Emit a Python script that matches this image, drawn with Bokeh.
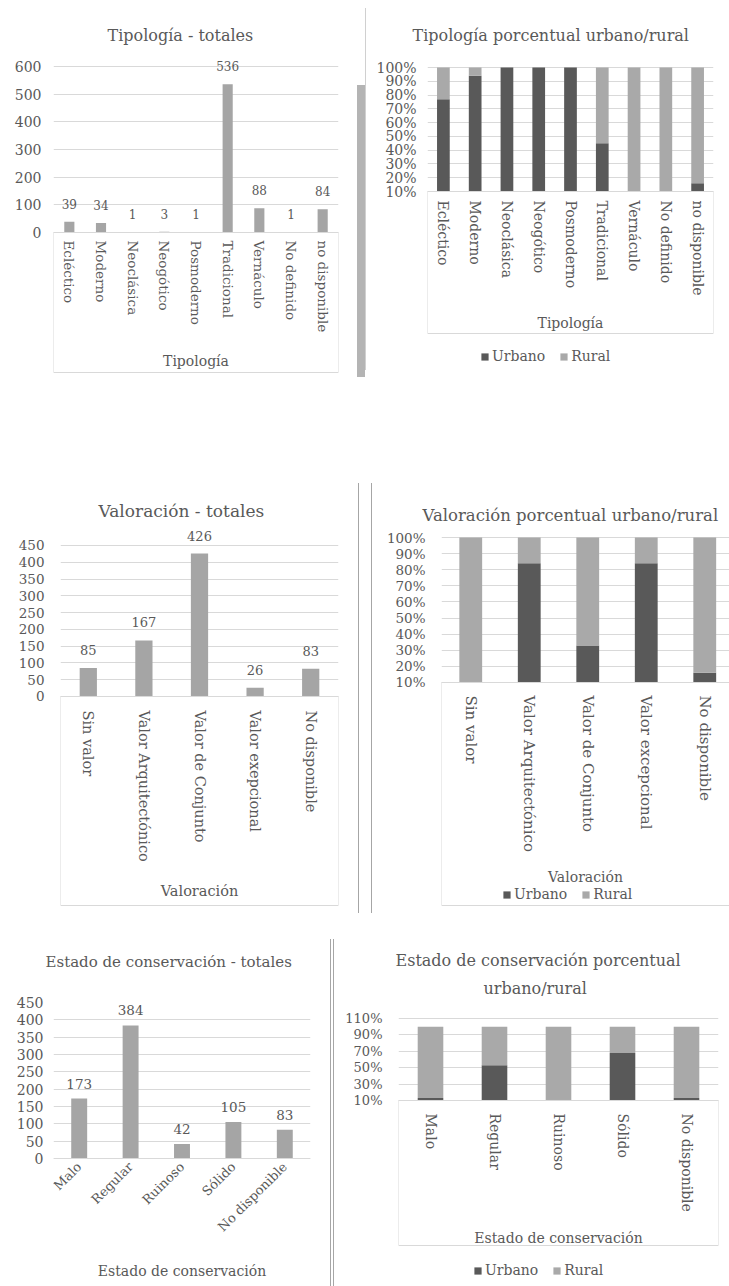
from bokeh.plotting import figure
from bokeh.layouts import column, row
from bokeh.models import (Range1d, FixedTicker, NumeralTickFormatter, Title,
                          Legend, LegendItem, ColumnDataSource, Spacer,
                          BoxAnnotation)
from bokeh.core.properties import value
from bokeh.embed import file_html
from bokeh.resources import INLINE

# ---------------- data ----------------
tipo_cats = ["Ecléctico", "Moderno", "Neoclásica", "Neogótico", "Posmoderno",
             "Tradicional", "Vernáculo", "No definido", "no disponible"]
tipo_totales = [39, 34, 1, 3, 1, 536, 88, 1, 84]
tipo_urbano = [0.77, 0.94, 1.0, 1.0, 1.0, 0.45, 0.0, 0.0, 0.16]

val_cats = ["Sin valor", "Valor Arquitectónico", "Valor de Conjunto",
            "Valor exepcional", "No disponible"]
val_totales = [85, 167, 426, 26, 83]
val_cats_pct = ["Sin valor", "Valor Arquitectónico", "Valor de Conjunto",
                "Valor excepcional", "No disponible"]
val_urbano = [0.0, 0.84, 0.33, 0.84, 0.16]

est_cats = ["Malo", "Regular", "Ruinoso", "Sólido", "No disponible"]
est_totales = [173, 384, 42, 105, 83]
est_urbano = [0.13, 0.53, 0.0, 0.68, 0.13]

ticks_tot1 = [0, 100, 200, 300, 400, 500, 600]
ticks_tot2 = [0, 50, 100, 150, 200, 250, 300, 350, 400, 450]
ticks_pct1 = [0.1, 0.2, 0.3, 0.4, 0.5, 0.6, 0.7, 0.8, 0.9, 1.0]
ticks_pct2 = [0.1, 0.3, 0.5, 0.7, 0.9, 1.1]

# ---------------- style ----------------
FONT = "DejaVu Serif"
TXT = "#595959"
GRID = "#d9d9d9"
BAR = "#a5a5a5"
URB = "#595959"
RUR = "#a9a9a9"
SEP = "#a6a6a6"


def make_fig(xr, yr, base, left, fw, right, top, fh, bottom, titles):
    p = figure(frame_width=fw, frame_height=fh, x_range=xr, y_range=yr,
               output_backend="svg", toolbar_location=None, title=None,
               min_border_left=left, min_border_right=right,
               min_border_top=top, min_border_bottom=bottom)
    p.outline_line_color = None
    p.xgrid.grid_line_color = None
    p.ygrid.grid_line_color = GRID
    p.yaxis.axis_line_color = None
    p.yaxis.major_tick_line_color = None
    p.yaxis.minor_tick_line_color = None
    p.yaxis.major_tick_out = 0
    p.yaxis.major_label_text_font = FONT
    p.yaxis.major_label_text_color = TXT
    p.xaxis.fixed_location = base
    p.xaxis.axis_line_color = GRID
    p.xaxis.major_tick_line_color = None
    p.xaxis.minor_tick_line_color = None
    p.xaxis.major_tick_out = 0
    p.xaxis.major_label_text_font = FONT
    p.xaxis.major_label_text_color = TXT
    p.xaxis.axis_label_text_font = FONT
    p.xaxis.axis_label_text_color = TXT
    p.xaxis.axis_label_text_font_style = "normal"
    # titles: (text, size, offset, standoff), closest to the frame first
    for text, size, off, so in titles:
        t = Title(text=text, text_font=FONT, text_color=TXT,
                  text_font_style="normal", text_font_size=size,
                  align="left", offset=off, standoff=so)
        p.add_layout(t, "above")
    return p


def below_box(p, base, depth, right=None):
    kw = dict(top=base, bottom=depth, fill_alpha=0, line_color=GRID,
              line_width=1, line_alpha=1)
    if right is not None:
        kw["right"] = right
    p.add_layout(BoxAnnotation(**kw))


def vline(w, h, top, total, color):
    parts = []
    if top > 0:
        parts.append(Spacer(width=w, height=top, margin=0))
    parts.append(Spacer(width=w, height=h, margin=0,
                        styles={"background-color": color}))
    rest = total - top - h
    if rest > 0:
        parts.append(Spacer(width=w, height=rest, margin=0))
    return column(*parts, spacing=0, margin=0)


def gap(w, h):
    return Spacer(width=w, height=h, margin=0)


def labels(p, xs, ys, size, off):
    src = ColumnDataSource(dict(x=xs, y=ys, t=[str(v) for v in ys]))
    p.text(x="x", y="y", text="t", source=src, text_font=value(FONT),
           text_font_size=value(size), text_color=TXT, text_align="center",
           text_baseline="middle", y_offset=off)


def pct_bars(p, xs, urb, width, base, loc, size):
    top_u = [max(u, base) for u in urb]
    src = ColumnDataSource(dict(x=xs, b=[base] * len(urb), tu=top_u,
                                tr=[1.0] * len(urb)))
    r_u = p.vbar(x="x", bottom="b", top="tu", width=width, fill_color=URB,
                 line_color=None, source=src)
    r_r = p.vbar(x="x", bottom="tu", top="tr", width=width, fill_color=RUR,
                 line_color=None, source=src)
    lg = Legend(items=[LegendItem(label="Urbano", renderers=[r_u]),
                       LegendItem(label="Rural", renderers=[r_r])],
                orientation="horizontal", location=loc,
                label_text_font=FONT, label_text_color=TXT,
                label_text_font_size=size)
    lg.glyph_width = 9
    lg.glyph_height = 9
    lg.label_standoff = 3
    lg.spacing = 14
    lg.padding = 0
    lg.margin = 0
    lg.border_line_color = None
    lg.background_fill_alpha = 0
    p.add_layout(lg)


# ---------- Chart 1: Tipología - totales ----------
p1 = make_fig(tipo_cats, Range1d(-520.48, 657.83), 0, 53, 285, 19, 50, 326, 64,
              [("Tipología - totales", "16px", 54, 12)])
p1.vbar(x=tipo_cats, top=tipo_totales, width=0.32, fill_color=BAR, line_color=None)
labels(p1, tipo_cats, tipo_totales, "12px", -18)
p1.yaxis.ticker = FixedTicker(ticks=ticks_tot1)
p1.yaxis.major_label_text_font_size = "14px"
p1.yaxis.major_label_standoff = 12
p1.xaxis.major_label_orientation = "vertical"
p1.xaxis.major_label_text_font_size = "13.5px"
p1.xaxis.major_label_standoff = 8
p1.xaxis.axis_label = "Tipología"
p1.xaxis.axis_label_text_font_size = "14px"
p1.xaxis.axis_label_standoff = 18
below_box(p1, 0, -506.0)

# ---------- Chart 2: Tipología porcentual ----------
p2 = make_fig(tipo_cats, Range1d(-1.2427, 1.1234), 0.1, 61, 286, 16, 50, 326, 64,
              [("Tipología porcentual urbano/rural", "16px", -15, 12)])
pct_bars(p2, tipo_cats, tipo_urbano, 0.4, 0.1, (53, 12), "14px")
p2.yaxis.ticker = FixedTicker(ticks=ticks_pct1)
p2.yaxis.formatter = NumeralTickFormatter(format="0%")
p2.yaxis.major_label_text_font_size = "14px"
p2.yaxis.major_label_standoff = 11
p2.xaxis.major_label_orientation = "vertical"
p2.xaxis.major_label_text_font_size = "14px"
p2.xaxis.major_label_standoff = 9
p2.xaxis.axis_label = "Tipología"
p2.xaxis.axis_label_text_font_size = "14px"
p2.xaxis.axis_label_standoff = 16
below_box(p2, 0.1, -0.9306)

# ---------- Chart 3: Valoración - totales ----------
p3 = make_fig(val_cats, Range1d(-637.75, 509.6), 0, 60, 278, 20, 85, 385, 5,
              [("Valoración - totales", "17px", 38, 10)])
p3.vbar(x=val_cats, top=val_totales, width=0.31, fill_color=BAR, line_color=None)
labels(p3, val_cats, val_totales, "13px", -18)
p3.yaxis.ticker = FixedTicker(ticks=ticks_tot2)
p3.yaxis.major_label_text_font_size = "13.5px"
p3.yaxis.major_label_standoff = 16
p3.xaxis.major_label_orientation = "vertical"
p3.xaxis.major_label_text_font_size = "14.5px"
p3.xaxis.major_label_standoff = 14
p3.xaxis.axis_label = "Valoración"
p3.xaxis.axis_label_text_font_size = "14.5px"
p3.xaxis.axis_label_standoff = 18
below_box(p3, 0, -622.85)

# ---------- Chart 4: Valoración porcentual ----------
val_x = [i + 0.5 for i in range(len(val_cats_pct))]
p4 = make_fig(Range1d(0, 4.923), Range1d(-1.3152, 1.0745), 0.1, 69, 288, 0, 85, 385, 5,
              [("Valoración porcentual urbano/rural", "16.5px", -19, 2)])
pct_bars(p4, val_x, val_urbano, 0.39, 0.1, (61, 8), "14px")
p4.xaxis.ticker = FixedTicker(ticks=val_x)
p4.xaxis.major_label_overrides = {x: c for x, c in zip(val_x, val_cats_pct)}
p4.yaxis.ticker = FixedTicker(ticks=ticks_pct1)
p4.yaxis.formatter = NumeralTickFormatter(format="0%")
p4.yaxis.major_label_text_font_size = "13.5px"
p4.yaxis.major_label_standoff = 16
p4.xaxis.major_label_orientation = "vertical"
p4.xaxis.major_label_text_font_size = "15px"
p4.xaxis.major_label_standoff = 13
p4.xaxis.axis_label = "Valoración"
p4.xaxis.axis_label_text_font_size = "14px"
p4.xaxis.axis_label_standoff = 14
below_box(p4, 0.1, -1.2841, right=5.3)

# ---------- Chart 5: Estado de conservación - totales ----------
p5 = make_fig(est_cats, Range1d(-363.46, 450), 0, 53, 257, 20, 87, 282, 2,
              [("Estado de conservación - totales", "15px", -8, 63)])
p5.vbar(x=est_cats, top=est_totales, width=0.31, fill_color=BAR, line_color=None)
labels(p5, est_cats, est_totales, "13.5px", -15)
p5.yaxis.ticker = FixedTicker(ticks=ticks_tot2)
p5.yaxis.major_label_text_font_size = "14px"
p5.yaxis.major_label_standoff = 10
p5.xaxis.major_label_orientation = 0.785
p5.xaxis.major_label_text_font_size = "13px"
p5.xaxis.major_label_standoff = 6
p5.xaxis.axis_label = "Estado de conservación"
p5.xaxis.axis_label_text_font_size = "14px"
p5.xaxis.axis_label_standoff = 20

# ---------- Chart 6: Estado porcentual ----------
p6 = make_fig(est_cats, Range1d(-2.1439, 1.2951), 0.1, 64, 320, 11, 87, 282, 2,
              [("urbano/rural", "16px", 85, 10),
               ("Estado de conservación porcentual", "16px", -3, 4)])
pct_bars(p6, est_cats, est_urbano, 0.4, 0.1, (75, 6), "14px")
p6.yaxis.ticker = FixedTicker(ticks=ticks_pct2)
p6.yaxis.formatter = NumeralTickFormatter(format="0%")
p6.yaxis.major_label_text_font_size = "13px"
p6.yaxis.major_label_standoff = 16
p6.xaxis.major_label_orientation = "vertical"
p6.xaxis.major_label_text_font_size = "14px"
p6.xaxis.major_label_standoff = 13
p6.xaxis.axis_label = "Estado de conservación"
p6.xaxis.axis_label_text_font_size = "14px"
p6.xaxis.axis_label_standoff = 15
below_box(p6, 0.1, -1.6683)

row1 = row(p1, vline(8, 292, 85, 440, "#b4b4b4"),
           vline(1, 362, 8, 440, "#d0d0d0"), p2, spacing=0, margin=0)
row2 = row(p3, vline(1, 430, 43, 475, SEP), gap(12, 475),
           vline(1, 430, 43, 475, SEP), p4, spacing=0, margin=0)
row3 = row(p5, vline(1, 347, 24, 371, SEP), gap(2, 371),
           vline(1, 347, 24, 371, SEP), p6, spacing=0, margin=0)
layout = column(row1, row2, row3, spacing=0, margin=0)
open("out.html", "w").write(file_html(layout, INLINE))
